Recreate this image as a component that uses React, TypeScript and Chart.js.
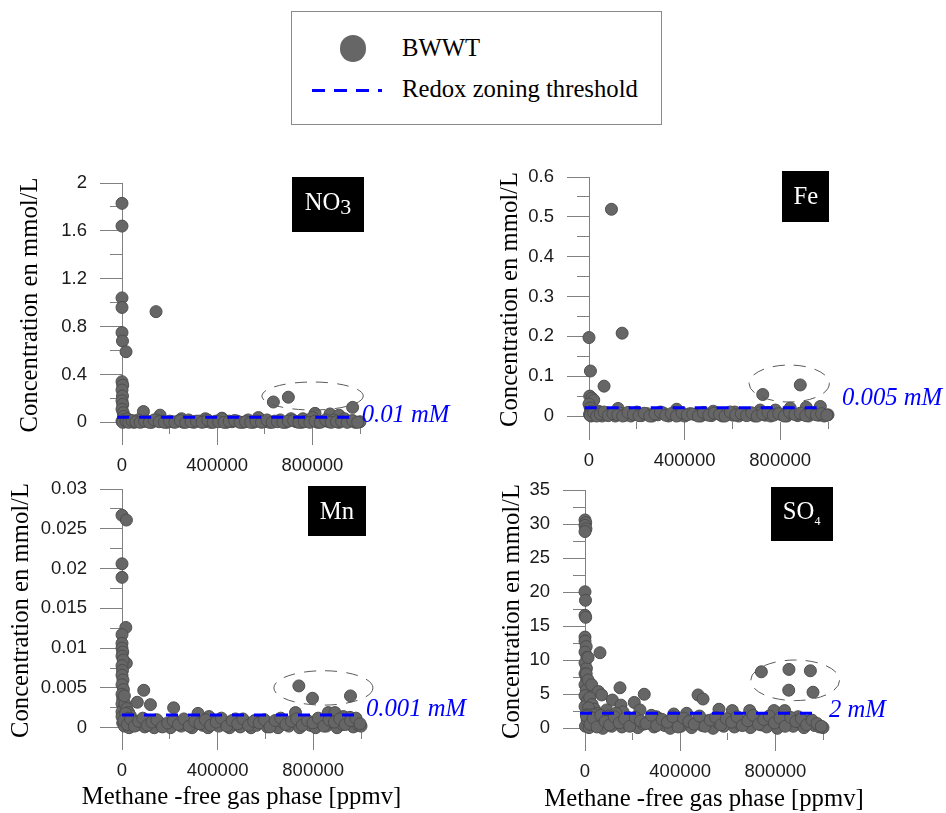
import React, { useEffect, useRef } from 'react';
import { Chart, registerables } from 'chart.js';

Chart.register(...registerables);

const W = 946;
const H = 813;
const SERIF = "'Liberation Serif', 'Times New Roman', Times, serif";
const SANS = "'Liberation Sans', Arial, Helvetica, sans-serif";
const TXT = 24.7;

// ------------------------- data -------------------------
const xTickValues = [0, 200000, 400000, 600000, 800000, 1000000];
const xTickLabels = ['0', '', '400000', '', '800000', ''];
const xTitle = 'Methane -free gas phase [ppmv]';
const yTitle = 'Concentration en mmol/L';

const no3YTicks = [0, 0.2, 0.4, 0.6, 0.8, 1.0, 1.2, 1.4, 1.6, 1.8, 2.0];
const no3YLabels = ['0', '', '0.4', '', '0.8', '', '1.2', '', '1.6', '', '2'];
const feYTicks = [0, 0.05, 0.1, 0.15, 0.2, 0.25, 0.3, 0.35, 0.4, 0.45, 0.5, 0.55, 0.6];
const feYLabels = ['0', '', '0.1', '', '0.2', '', '0.3', '', '0.4', '', '0.5', '', '0.6'];
const mnYTicks = [0, 0.0025, 0.005, 0.0075, 0.01, 0.0125, 0.015, 0.0175, 0.02, 0.0225, 0.025, 0.0275, 0.03];
const mnYLabels = ['0', '', '0.005', '', '0.01', '', '0.015', '', '0.02', '', '0.025', '', '0.03'];
const so4YTicks = [0, 2.5, 5, 7.5, 10, 12.5, 15, 17.5, 20, 22.5, 25, 27.5, 30, 32.5, 35];
const so4YLabels = ['0', '', '5', '', '10', '', '15', '', '20', '', '25', '', '30', '', '35'];

// NO3
const no3X = [0, 0, 0, 0, 0, 2000, 17000, 0, 3000, 0, 2000, 0, 3000, 0, 5000, 8000, 143000, 90000, 160000, 636000, 699000, 811000, 874000, 912000, 969000, 573000, 760000, 350000, 420000, 250000];
const no3Y = [1.83, 1.64, 1.04, 0.96, 0.75, 0.68, 0.59, 0.34, 0.31, 0.27, 0.22, 0.18, 0.15, 0.11, 0.08, 0.05, 0.925, 0.09, 0.06, 0.17, 0.21, 0.075, 0.07, 0.06, 0.125, 0.04, 0.03, 0.03, 0.035, 0.03];
const no3BandX = [0, 6000, 12000, 22000, 35000, 50000, 68000, 85000, 105000, 125000, 145000, 168000, 190000, 212000, 235000, 258000, 280000, 302000, 325000, 348000, 372000, 395000, 418000, 440000, 462000, 485000, 508000, 530000, 552000, 575000, 598000, 620000, 642000, 665000, 688000, 710000, 732000, 755000, 778000, 800000, 822000, 845000, 868000, 890000, 912000, 935000, 958000, 980000, 1000000];
const no3BandY = [0.01, 0.02, 0.005, 0.03, 0.01, 0.0, 0.02, 0.005, 0.01, 0.0, 0.02, 0.01, 0.0, 0.005, 0.01, 0.0, 0.02, 0.0, 0.01, 0.005, 0.0, 0.01, 0.03, 0.0, 0.005, 0.01, 0.0, 0.02, 0.0, 0.01, 0.005, 0.0, 0.01, 0.02, 0.0, 0.03, 0.005, 0.0, 0.01, 0.04, 0.0, 0.01, 0.005, 0.02, 0.0, 0.03, 0.01, 0.0, 0.005];
const no3Band2X = [3000, 17000, 28000, 42000, 58000, 76000, 95000, 115000, 135000, 156000, 178000, 200000, 222000, 245000, 268000, 290000, 313000, 336000, 360000, 383000, 406000, 429000, 450000, 473000, 496000, 519000, 541000, 563000, 586000, 609000, 631000, 653000, 676000, 699000, 721000, 743000, 766000, 789000, 811000, 833000, 856000, 879000, 901000, 923000, 946000, 969000, 990000];
const no3Band2Y = [0.0, 0.01, 0.0, 0.015, 0.005, 0.0, 0.01, 0.0, 0.02, 0.005, 0.0, 0.01, 0.0, 0.015, 0.0, 0.005, 0.01, 0.0, 0.02, 0.0, 0.005, 0.0, 0.01, 0.015, 0.0, 0.005, 0.0, 0.01, 0.0, 0.02, 0.0, 0.005, 0.0, 0.01, 0.015, 0.0, 0.005, 0.0, 0.01, 0.0, 0.02, 0.0, 0.005, 0.01, 0.0, 0.015, 0.0];
const no3ThrX = [-20000, 980000];
const no3ThrY = [0.042, 0.042];

// Fe
const feX = [94000, 138600, 0, 6000, 63000, 3000, 12000, 20000, 0, 5000, 8000, 727000, 884000, 121700, 366700, 909000, 968000, 842000, 716000, 40000, 200000, 520000, 610000, 780000];
const feY = [0.519, 0.208, 0.197, 0.113, 0.075, 0.05, 0.045, 0.04, 0.03, 0.02, 0.012, 0.054, 0.078, 0.019, 0.017, 0.022, 0.024, 0.02, 0.015, 0.012, 0.01, 0.012, 0.01, 0.015];
const feBandX = [2000, 9000, 16000, 26000, 40000, 55000, 72000, 90000, 110000, 130000, 152000, 175000, 198000, 220000, 243000, 265000, 288000, 310000, 333000, 355000, 378000, 400000, 423000, 446000, 468000, 490000, 513000, 535000, 558000, 580000, 603000, 626000, 648000, 670000, 693000, 716000, 738000, 760000, 783000, 806000, 828000, 850000, 873000, 896000, 918000, 940000, 962000, 984000, 1000000];
const feBandY = [0.004, 0.0, 0.006, 0.002, 0.008, 0.0, 0.003, 0.005, 0.0, 0.007, 0.002, 0.0, 0.005, 0.001, 0.006, 0.0, 0.003, 0.008, 0.0, 0.004, 0.002, 0.0, 0.006, 0.003, 0.0, 0.005, 0.001, 0.007, 0.0, 0.004, 0.002, 0.0, 0.006, 0.003, 0.0, 0.008, 0.002, 0.0, 0.005, 0.003, 0.0, 0.007, 0.001, 0.004, 0.0, 0.006, 0.002, 0.0, 0.003];
const feBand2X = [5000, 20000, 32000, 47000, 63000, 81000, 100000, 120000, 141000, 163000, 186000, 209000, 231000, 254000, 276000, 299000, 321000, 344000, 366000, 389000, 411000, 434000, 457000, 479000, 501000, 524000, 546000, 569000, 591000, 614000, 637000, 659000, 681000, 704000, 727000, 749000, 771000, 794000, 817000, 839000, 861000, 884000, 907000, 929000, 951000, 973000, 995000];
const feBand2Y = [0.002, 0.008, 0.0, 0.005, 0.01, 0.001, 0.006, 0.003, 0.0, 0.009, 0.004, 0.001, 0.007, 0.0, 0.005, 0.01, 0.002, 0.006, 0.0, 0.008, 0.003, 0.005, 0.0, 0.009, 0.002, 0.007, 0.004, 0.0, 0.01, 0.003, 0.006, 0.001, 0.008, 0.0, 0.005, 0.009, 0.002, 0.006, 0.0, 0.01, 0.004, 0.007, 0.001, 0.009, 0.003, 0.006, 0.002];
const feThrX = [-18000, 980000];
const feThrY = [0.021, 0.021];

// Mn
const mnX = [0, 18400, 0, 0, 16000, 0, 0, 18000, 91000, 64000, 119000, 216000, 318000, 364000, 475000, 556000, 740000, 797000, 956000, 726000, 863000, 891000, 926000, 954000];
const mnY = [0.0267, 0.0261, 0.0206, 0.0189, 0.0126, 0.0117, 0.0106, 0.0081, 0.0047, 0.0032, 0.0029, 0.0025, 0.0018, 0.0014, 0.0011, 0.0009, 0.00525, 0.0037, 0.004, 0.0019, 0.0019, 0.0019, 0.0014, 0.0013];
const mnColX = [0, 3000, 0, 5000, 0, 2000, 0, 4000, 0, 6000, 0, 3000, 0, 8000, 0, 0, 12000, 20000, 28000, 35000, 15000, 25000, 40000, 10000, 50000];
const mnColY = [0.01, 0.0095, 0.009, 0.0085, 0.0078, 0.0072, 0.0066, 0.006, 0.0054, 0.0048, 0.0042, 0.0036, 0.003, 0.0025, 0.002, 0.0014, 0.003, 0.0024, 0.0019, 0.0015, 0.0018, 0.0012, 0.001, 0.004, 0.0008];
const mnBandX = [3000, 10000, 18000, 30000, 45000, 60000, 78000, 95000, 115000, 135000, 158000, 180000, 203000, 225000, 248000, 270000, 293000, 315000, 338000, 360000, 383000, 405000, 428000, 450000, 473000, 495000, 518000, 540000, 563000, 585000, 608000, 630000, 653000, 675000, 698000, 720000, 743000, 765000, 788000, 810000, 833000, 855000, 878000, 900000, 923000, 945000, 968000, 990000, 1000000];
const mnBandY = [0.0006, 0.0002, 0.0008, 0.0, 0.0005, 0.0003, 0.0007, 0.0001, 0.0005, 0.0, 0.0006, 0.0003, 0.0, 0.0007, 0.0002, 0.0004, 0.0, 0.0006, 0.0003, 0.0, 0.0005, 0.0002, 0.0007, 0.0, 0.0004, 0.0001, 0.0006, 0.0, 0.0003, 0.0007, 0.0001, 0.0004, 0.0, 0.0006, 0.0002, 0.0008, 0.0, 0.0005, 0.0003, 0.0, 0.0006, 0.0002, 0.0007, 0.0, 0.0004, 0.0006, 0.0001, 0.0003, 0.0002];
const mnBand2X = [7000, 22000, 36000, 52000, 69000, 87000, 106000, 125000, 146000, 169000, 191000, 214000, 236000, 259000, 281000, 304000, 326000, 349000, 371000, 394000, 416000, 439000, 461000, 484000, 506000, 529000, 551000, 574000, 596000, 619000, 641000, 664000, 686000, 709000, 731000, 754000, 776000, 799000, 821000, 844000, 866000, 889000, 911000, 934000, 956000, 979000, 996000];
const mnBand2Y = [0.0009, 0.0004, 0.0011, 0.0002, 0.0008, 0.0012, 0.0003, 0.0007, 0.001, 0.0001, 0.0006, 0.0009, 0.0004, 0.0011, 0.0002, 0.0008, 0.0005, 0.001, 0.0003, 0.0007, 0.0012, 0.0002, 0.0009, 0.0005, 0.0011, 0.0003, 0.0008, 0.0006, 0.001, 0.0001, 0.0009, 0.0012, 0.0004, 0.0008, 0.0011, 0.0003, 0.0009, 0.0006, 0.0012, 0.0002, 0.001, 0.0007, 0.0011, 0.0004, 0.0009, 0.0012, 0.0005];
const mnThrX = [0, 990000];
const mnThrY = [0.0016, 0.0016];

// SO4
const so4X = [0, 3000, 0, 4000, 0, 0, 2000, 0, 3000, 0, 0, 5000, 0, 8000, 0, 6000, 0, 7000, 0, 5000, 0, 9000, 0, 63000, 13000, 5000, 13000, 28000, 56000, 70000, 147000, 115000, 151000, 207000, 249000, 231000, 91000, 475000, 496000, 427000, 563000, 619000, 692000, 794000, 839000, 895000, 741000, 857000, 947000, 856000, 958000, 300000, 373000, 160000];
const so4Y = [30.6, 30.2, 29.8, 29.3, 28.9, 20.05, 18.8, 16.6, 16.3, 13.4, 12.8, 12.0, 11.2, 10.4, 9.6, 8.8, 8.0, 7.2, 6.4, 5.6, 4.8, 4.0, 3.2, 11.1, 10.4, 8.0, 7.1, 6.4, 5.4, 4.9, 5.95, 4.15, 3.4, 3.8, 5.0, 2.7, 2.7, 4.9, 4.3, 2.2, 2.8, 2.6, 2.6, 2.6, 2.6, 1.7, 8.3, 8.65, 8.45, 5.6, 5.3, 1.7, 2.1, 2.4];
const so4WedgeX = [20000, 30000, 40000, 15000, 50000, 25000, 60000, 80000, 35000, 10000, 45000, 100000, 120000, 130000, 180000];
const so4WedgeY = [4.5, 3.5, 2.8, 3.0, 2.2, 1.8, 1.5, 1.2, 2.0, 2.0, 1.0, 1.8, 1.4, 2.2, 1.6];
const so4BandX = [2000, 9000, 17000, 28000, 42000, 58000, 75000, 92000, 112000, 133000, 155000, 177000, 200000, 222000, 245000, 268000, 290000, 313000, 335000, 358000, 380000, 403000, 425000, 448000, 470000, 493000, 515000, 538000, 560000, 583000, 605000, 628000, 650000, 673000, 695000, 718000, 740000, 763000, 785000, 808000, 830000, 853000, 875000, 898000, 920000, 943000, 965000, 985000, 1000000];
const so4BandY = [0.3, 1.2, 0.1, 0.8, 0.4, 1.4, 0.0, 0.9, 0.3, 1.1, 0.2, 0.7, 1.3, 0.1, 0.6, 1.0, 0.2, 1.4, 0.4, 0.0, 0.9, 0.3, 1.2, 0.1, 0.7, 0.4, 1.1, 0.0, 0.8, 0.3, 1.3, 0.2, 0.6, 1.0, 0.1, 1.4, 0.5, 0.2, 1.2, 0.0, 0.8, 1.5, 0.3, 0.9, 0.1, 1.1, 0.4, 0.2, 0.1];
const so4Band2X = [6000, 21000, 34000, 50000, 66000, 84000, 103000, 123000, 144000, 166000, 188000, 211000, 233000, 256000, 279000, 301000, 324000, 346000, 369000, 391000, 414000, 436000, 459000, 481000, 504000, 526000, 549000, 571000, 594000, 616000, 639000, 661000, 684000, 706000, 729000, 751000, 774000, 796000, 819000, 841000, 864000, 886000, 909000, 931000, 954000, 975000, 993000];
const so4Band2Y = [1.8, 0.6, 1.5, 0.2, 1.9, 1.0, 0.5, 1.7, 0.8, 1.4, 0.3, 1.6, 1.1, 0.7, 1.9, 0.4, 1.3, 0.9, 1.7, 0.2, 1.5, 1.0, 0.6, 1.8, 0.3, 1.2, 1.6, 0.5, 1.4, 0.9, 1.7, 0.4, 1.1, 1.9, 0.6, 1.3, 1.8, 0.8, 1.5, 0.3, 1.6, 1.0, 1.4, 0.5, 1.2, 0.7, 0.3];
const so4ThrX = [-21000, 965000];
const so4ThrY = [2.2, 2.2];

// ------------------------- panel layout -------------------------
const panels: any[] = [
  {
    key: 'no3',
    xs: [...no3X, ...no3BandX, ...no3Band2X], ys: [...no3Y, ...no3BandY, ...no3Band2Y],
    thrX: no3ThrX, thrY: no3ThrY,
    yTicks: no3YTicks, yLabels: no3YLabels, yMin: -0.039, yMax: 2,
    area: { left: 122, right: 360, top: 183, bottom: 427 },
    yTitleX: 31, xTitleY: null,
    label: { text: '0.01 mM', x: 1007000, y: 0.061 },
    box: { x: 865600, y: 1.82, w: 72, h: 55, base: 5.5, parts: [{ t: 'NO', s: TXT, dy: 0 }, { t: '3', s: 22, dy: 4 }] },
    ellipse: { cx: 800700, cy: 0.22, rx: 213000, ry: 0.117 },
  },
  {
    key: 'fe',
    xs: [...feX, ...feBandX, ...feBand2X], ys: [...feY, ...feBandY, ...feBand2Y],
    thrX: feThrX, thrY: feThrY,
    yTicks: feYTicks, yLabels: feYLabels, yMin: -0.015, yMax: 0.6,
    area: { left: 589, right: 828, top: 177, bottom: 422 },
    yTitleX: 511, xTitleY: null,
    label: { text: '0.005 mM', x: 1058800, y: 0.045 },
    box: { x: 907000, y: 0.551, w: 47, h: 51, base: 7.5, parts: [{ t: 'Fe', s: TXT, dy: 0 }] },
    ellipse: { cx: 837700, cy: 0.0816, rx: 167800, ry: 0.0464 },
  },
  {
    key: 'mn',
    xs: [...mnX, ...mnColX, ...mnBandX, ...mnBand2X], ys: [...mnY, ...mnColY, ...mnBandY, ...mnBand2Y],
    thrX: mnThrX, thrY: mnThrY,
    yTicks: mnYTicks, yLabels: mnYLabels, yMin: -0.00054, yMax: 0.03,
    area: { left: 122, right: 361, top: 489, bottom: 732 },
    yTitleX: 22, xTitleY: 798,
    label: { text: '0.001 mM', x: 1020600, y: 0.00223 },
    box: { x: 899000, y: 0.02726, w: 58, h: 50, base: 8.3, parts: [{ t: 'Mn', s: TXT, dy: 0 }] },
    ellipse: { cx: 842700, cy: 0.005, rx: 207300, ry: 0.00216 },
  },
  {
    key: 'so4',
    xs: [...so4X, ...so4WedgeX, ...so4BandX, ...so4Band2X], ys: [...so4Y, ...so4WedgeY, ...so4BandY, ...so4Band2Y],
    thrX: so4ThrX, thrY: so4ThrY,
    yTicks: so4YTicks, yLabels: so4YLabels, yMin: -0.69, yMax: 35,
    area: { left: 585, right: 823, top: 490, bottom: 733 },
    yTitleX: 513, xTitleY: 800,
    label: { text: '2 mM', x: 1024800, y: 2.58 },
    box: { x: 910300, y: 31.47, w: 62, h: 54, base: 5.3, parts: [{ t: 'SO', s: TXT, dy: 0 }, { t: '4', s: 12, dy: 6 }] },
    ellipse: { cx: 883000, cy: 7.05, rx: 186700, ry: 2.98 },
  },
];

function makeDecor(p: any) {
  return {
    id: 'panelDecor_' + p.key,
    afterDraw(chart: any) {
      const { ctx, chartArea } = chart;
      ctx.save();
      ctx.fillStyle = '#000';
      ctx.font = `${TXT}px ${SERIF}`;
      ctx.textAlign = 'center';
      ctx.textBaseline = 'middle';
      // y axis title (no width compression)
      ctx.save();
      ctx.translate(p.yTitleX, (chartArea.top + chartArea.bottom) / 2);
      ctx.rotate(-Math.PI / 2);
      ctx.fillText(yTitle, 0, 0);
      ctx.restore();
      // x axis title
      if (p.xTitleY != null) {
        ctx.fillText(xTitle, (chartArea.left + chartArea.right) / 2, p.xTitleY);
      }
      ctx.restore();
    },
    afterDatasetsDraw(chart: any) {
      const { ctx } = chart;
      const xs = chart.scales.x;
      const ys = chart.scales.y;
      const px = (v: number) => xs.getPixelForValue(v);
      const py = (v: number) => ys.getPixelForValue(v);
      ctx.save();
      // dashed ellipse annotation
      const e = p.ellipse;
      const cx = px(e.cx);
      const cy = py(e.cy);
      const rx = Math.abs(px(e.cx + e.rx) - cx);
      const ry = Math.abs(py(e.cy + e.ry) - cy);
      ctx.beginPath();
      ctx.setLineDash([12, 9]);
      ctx.strokeStyle = '#5a5a5a';
      ctx.lineWidth = 1;
      ctx.ellipse(cx, cy, rx, ry, 0, 0, Math.PI * 2);
      ctx.stroke();
      ctx.setLineDash([]);
      // threshold label
      ctx.font = `italic ${TXT}px ${SERIF}`;
      ctx.fillStyle = '#0000ff';
      ctx.textAlign = 'left';
      ctx.textBaseline = 'middle';
      ctx.fillText(p.label.text, px(p.label.x), py(p.label.y));
      // black label box
      const b = p.box;
      const bx = px(b.x);
      const by = py(b.y);
      ctx.fillStyle = '#000';
      ctx.fillRect(Math.round(bx - b.w / 2), Math.round(by - b.h / 2), b.w, b.h);
      ctx.textBaseline = 'alphabetic';
      let total = 0;
      const widths = b.parts.map((pt: any) => {
        ctx.font = `${pt.s}px ${SERIF}`;
        const w = ctx.measureText(pt.t).width;
        total += w;
        return w;
      });
      let tx = bx - total / 2;
      ctx.fillStyle = '#fff';
      b.parts.forEach((pt: any, i: number) => {
        ctx.font = `${pt.s}px ${SERIF}`;
        ctx.fillText(pt.t, tx, by + b.base + pt.dy);
        tx += widths[i];
      });
      ctx.restore();
    },
  };
}

function Panel({ p }: { p: any }) {
  const ref = useRef<HTMLCanvasElement | null>(null);
  useEffect(() => {
    const a = p.area;
    const lh = TXT * 1.2;
    const padLeft = p.yTitleX - lh / 2;
    const yWidth = a.left - padLeft;
    const bottomEdge = p.xTitleY != null ? p.xTitleY + lh / 2 : a.bottom + 60;
    const xHeight = bottomEdge - a.bottom;
    const yLabels: string[] = p.yLabels;
    const chart = new Chart(ref.current as HTMLCanvasElement, {
      type: 'scatter',
      data: {
        datasets: [
          {
            label: 'Redox zoning threshold',
            data: p.thrX.map((x: number, i: number) => ({ x, y: p.thrY[i] })),
            showLine: true,
            borderColor: '#0000ff',
            backgroundColor: '#0000ff',
            borderWidth: 3,
            borderDash: [12, 10],
            pointRadius: 0,
            clip: false,
          } as any,
          {
            label: 'BWWT',
            data: p.xs.map((x: number, i: number) => ({ x, y: p.ys[i] })),
            pointRadius: 6,
            pointHoverRadius: 6,
            backgroundColor: '#666666',
            borderColor: '#4e4e4e',
            borderWidth: 1,
            clip: false,
          } as any,
        ],
      },
      options: {
        responsive: false,
        animation: false,
        events: [],
        layout: { padding: { left: padLeft, top: a.top, right: W - a.right, bottom: H - bottomEdge } },
        plugins: { legend: { display: false }, tooltip: { enabled: false } },
        scales: {
          x: {
            type: 'linear',
            position: 'bottom',
            bounds: 'data',
            min: 0,
            max: 1000000,
            afterBuildTicks: (s: any) => { s.ticks = xTickValues.map((v) => ({ value: v })); },
            afterFit: (s: any) => { s.height = xHeight; },
            border: { display: false },
            grid: {
              display: true,
              drawOnChartArea: false,
              drawTicks: true,
              tickLength: 18,
              tickColor: '#808080',
              tickWidth: 1,
              tickBorderDash: (c: any) => (xTickLabels[c.index] ? [] : [7, 100]),
            },
            ticks: {
              autoSkip: false,
              maxRotation: 0,
              minRotation: 0,
              padding: 10,
              color: '#1a1a1a',
              font: { family: SANS, size: 18.5 },
              callback: (_v: any, i: number) => xTickLabels[i],
            },
            title: { display: false },
          },
          y: {
            type: 'linear',
            position: 'left',
            bounds: 'data',
            min: p.yMin,
            max: p.yMax,
            afterBuildTicks: (s: any) => { s.ticks = p.yTicks.map((v: number) => ({ value: v })); },
            afterFit: (s: any) => { s.width = yWidth; },
            border: { display: true, color: '#808080', width: 1 },
            grid: {
              display: true,
              drawOnChartArea: false,
              drawTicks: true,
              tickLength: 22,
              tickColor: '#808080',
              tickWidth: 1,
              tickBorderDash: (c: any) => (yLabels[c.index] ? [] : [12, 100]),
              tickBorderDashOffset: (c: any) => (yLabels[c.index] ? 0 : 102),
            },
            ticks: {
              autoSkip: false,
              padding: 13,
              color: '#1a1a1a',
              font: { family: SANS, size: 18.5 },
              callback: (_v: any, i: number) => yLabels[i],
            },
            title: { display: false },
          },
        },
      } as any,
      plugins: [makeDecor(p)],
    });
    return () => chart.destroy();
  }, []);
  return (
    <canvas
      ref={ref}
      width={W}
      height={H}
      style={{ position: 'absolute', left: 0, top: 0, width: W, height: H }}
    />
  );
}

function Legend() {
  const font = `${TXT}px ${SERIF}`;
  return (
    <div style={{ position: 'absolute', left: 0, top: 0, width: W, height: 130 }}>
      <div
        style={{
          position: 'absolute', left: 291, top: 11, width: 371, height: 114,
          border: '1px solid #8a8a8a', boxSizing: 'border-box', background: '#fff',
        }}
      />
      <div
        style={{
          position: 'absolute', left: 339.5, top: 35, width: 26.5, height: 26.5,
          borderRadius: '50%', background: '#666666',
        }}
      />
      <div style={{ position: 'absolute', left: 402, top: 33.4, font, lineHeight: '30px', color: '#000', whiteSpace: 'nowrap' }}>
        BWWT
      </div>
      <div
        style={{
          position: 'absolute', left: 311.5, top: 88.5, width: 70, height: 3,
          background: 'repeating-linear-gradient(to right, #0000ff 0px, #0000ff 13px, transparent 13px, transparent 22px)',
        }}
      />
      <div style={{ position: 'absolute', left: 402, top: 73.5, font, lineHeight: '30px', color: '#000', whiteSpace: 'nowrap' }}>
        Redox zoning threshold
      </div>
    </div>
  );
}

export default function App() {
  return (
    <div style={{ position: 'absolute', left: 0, top: 0, width: W, height: H, background: '#fff', overflow: 'hidden' }}>
      <Legend />
      {panels.map((p) => (
        <Panel key={p.key} p={p} />
      ))}
    </div>
  );
}
